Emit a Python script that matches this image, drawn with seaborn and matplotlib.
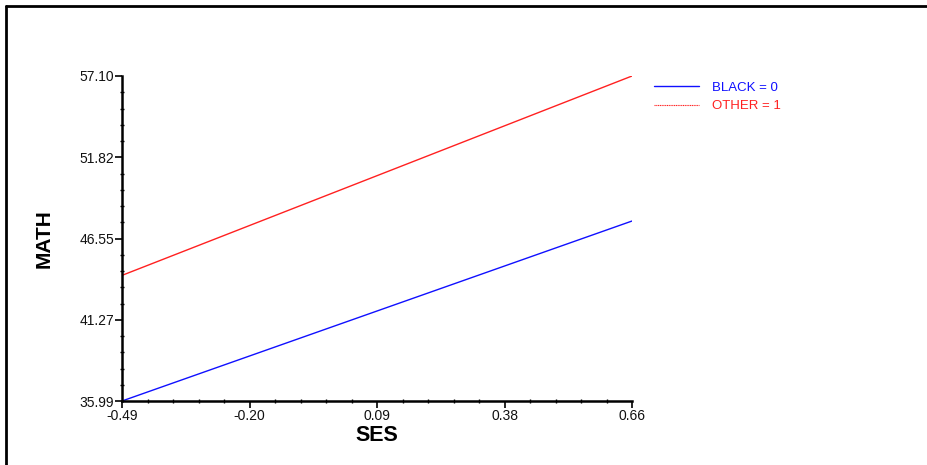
import numpy as np
import pandas as pd
import matplotlib
matplotlib.use("Agg")
import matplotlib.pyplot as plt
import seaborn as sns
from matplotlib.lines import Line2D
from matplotlib.ticker import AutoMinorLocator

# --- data ---
ses = [-0.49, 0.66]
math_black = [35.99, 47.68]
math_other = [44.15, 57.10]
groups = ["BLACK = 0", "OTHER = 1"]
xticks = [-0.49, -0.2025, 0.085, 0.3725, 0.66]
xtick_labels = ["-0.49", "-0.20", "0.09", "0.38", "0.66"]
yticks = [35.99, 41.2675, 46.545, 51.8225, 57.10]
ytick_labels = ["35.99", "41.27", "46.55", "51.82", "57.10"]

df = pd.DataFrame({
    "SES": ses + ses,
    "MATH": math_black + math_other,
    "group": [groups[0]] * 2 + [groups[1]] * 2,
})

sns.set_style("white")
plt.rcParams["font.family"] = ["Liberation Sans", "DejaVu Sans"]

fig = plt.figure(figsize=(9.27, 4.65), dpi=100)
ax = fig.add_axes([122 / 927, 1 - 401 / 465, 510 / 927, 325 / 465])

sns.lineplot(data=df, x="SES", y="MATH", hue="group",
             palette={groups[0]: "#1010ff", groups[1]: "#ff2020"},
             linewidth=1.0, ax=ax)

ax.set_xlim(ses[0], ses[1])
ax.set_ylim(yticks[0], yticks[-1])
ax.set_xticks(xticks)
ax.set_xticklabels(xtick_labels)
ax.set_yticks(yticks)
ax.set_yticklabels(ytick_labels)
ax.xaxis.set_minor_locator(AutoMinorLocator(5))
ax.yaxis.set_minor_locator(AutoMinorLocator(5))
ax.tick_params(which="major", direction="out", length=5, width=1.2,
               labelsize=10, pad=0.5, color="black", labelcolor="#111111")
ax.tick_params(which="minor", direction="inout", length=3, width=1.0, color="black")
ax.tick_params(bottom=True, left=True)
ax.tick_params(which="minor", bottom=True, left=True)

for side in ["top", "right"]:
    ax.spines[side].set_visible(False)
for side in ["left", "bottom"]:
    ax.spines[side].set_color("black")
    ax.spines[side].set_linewidth(1.8)

ax.set_xlabel("SES", fontsize=15.5, fontweight="bold", labelpad=2, color="black")
ax.set_ylabel("MATH", fontsize=15, fontweight="bold", labelpad=19, color="black")

leg = ax.legend(loc="upper left", bbox_to_anchor=(1.02, 1.02), frameon=False,
                fontsize=9.5, handlelength=3.4, handletextpad=1.0,
                labelspacing=0.5, labelcolor="linecolor")
leg.get_lines()[1].set_linestyle((0, (1, 0.6)))
leg.get_lines()[1].set_linewidth(0.8)

# outer frame (top and left edges only)
fig.add_artist(Line2D([6 / 927, 1.0], [1 - 6 / 465, 1 - 6 / 465],
                      transform=fig.transFigure, color="black", linewidth=2))
fig.add_artist(Line2D([6 / 927, 6 / 927], [0.0, 1 - 6 / 465],
                      transform=fig.transFigure, color="black", linewidth=2))

fig.savefig("out.png", dpi=100)
